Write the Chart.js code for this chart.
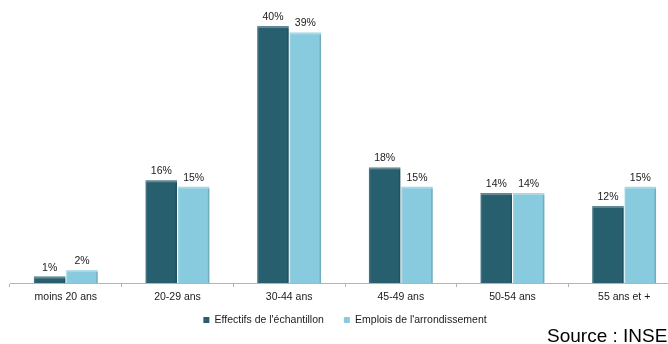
<!DOCTYPE html>
<html lang="fr">
<head>
<meta charset="utf-8">
<title>Répartition par âge</title>
<script src="https://cdn.jsdelivr.net/npm/chart.js@4/dist/chart.umd.min.js"></script>
<style>
  html, body { margin: 0; padding: 0; background: #fff; overflow: hidden; width: 668px; height: 344px; }
  #wrap { position: relative; width: 700px; height: 344px; }
</style>
</head>
<body>
<div id="wrap"><canvas id="c" width="700" height="344"></canvas></div>
<script>
// Tranches d'âge
const categories = ['moins 20 ans', '20-29 ans', '30-44 ans', '45-49 ans', '50-54 ans', '55 ans et +'];
// Parts en % par tranche
const effectifsEchantillon = [1, 16, 40, 18, 14, 12];
const emploisArrondissement = [2, 15, 39, 15, 14, 15];
const seriesNames = ["Effectifs de l'échantillon", "Emplois de l'arrondissement"];
const sourceText = 'Source : INSEE';

const FONT = "'Liberation Sans', Arial, sans-serif";
const DARK = '#285f6e';
const LIGHT = '#88cade';

// Valeurs en % au-dessus des barres
const valueLabels = {
  id: 'valueLabels',
  afterDatasetsDraw(chart) {
    const ctx = chart.ctx;
    ctx.save();
    ctx.font = '10.5px ' + FONT;
    ctx.fillStyle = '#1a1a1a';
    ctx.textAlign = 'center';
    ctx.textBaseline = 'alphabetic';
    chart.data.datasets.forEach((ds, i) => {
      chart.getDatasetMeta(i).data.forEach((bar, j) => {
        ctx.fillText(ds.data[j] + '%', bar.x, bar.y - 6);
      });
    });
    ctx.restore();
  }
};

// Léger relief sur les barres
const bevel = {
  id: 'bevel',
  afterDatasetsDraw(chart) {
    const ctx = chart.ctx;
    ctx.save();
    chart.data.datasets.forEach((ds, i) => {
      chart.getDatasetMeta(i).data.forEach((bar) => {
        const w = bar.width, x0 = bar.x - w / 2, y0 = bar.y, h = bar.base - bar.y;
        if (h < 3) return;
        ctx.fillStyle = 'rgba(255,255,255,0.28)';
        ctx.fillRect(x0, y0, w, 2);
        ctx.fillStyle = 'rgba(255,255,255,0.12)';
        ctx.fillRect(x0, y0 + 2, 1.5, h - 2);
        ctx.fillStyle = 'rgba(0,0,0,0.15)';
        ctx.fillRect(x0 + w - 1.5, y0 + 2, 1.5, h - 2);
      });
    });
    ctx.restore();
  }
};

// Remonte la légende juste sous les libellés de l'axe
const legendShift = {
  id: 'legendShift',
  afterLayout(chart) {
    const lg = chart.legend;
    if (!lg) return;
    const targetTop = 320 - 20 - 5.25;
    const d = lg.top - targetTop;
    lg.top -= d;
    lg.bottom -= d;
    if (lg.legendHitBoxes) lg.legendHitBoxes.forEach(b => { b.top -= d; });
  }
};

// Mention de la source en bas à droite
const sourceNote = {
  id: 'sourceNote',
  afterDraw(chart) {
    const ctx = chart.ctx;
    ctx.save();
    ctx.font = '19px ' + FONT;
    ctx.fillStyle = '#000';
    ctx.textAlign = 'left';
    ctx.textBaseline = 'alphabetic';
    ctx.fillText(sourceText, 547, 342);
    ctx.restore();
  }
};

new Chart(document.getElementById('c'), {
  type: 'bar',
  data: {
    labels: categories,
    datasets: [
      { label: seriesNames[0], data: effectifsEchantillon, backgroundColor: DARK },
      { label: seriesNames[1], data: emploisArrondissement, backgroundColor: LIGHT }
    ]
  },
  options: {
    responsive: false,
    animation: false,
    devicePixelRatio: 1,
    datasets: { bar: { categoryPercentage: 0.58, barPercentage: 0.97 } },
    layout: { padding: { top: 10, left: 10, right: 20, bottom: 0.5 } },
    scales: {
      x: {
        grid: { display: true, drawOnChartArea: false, drawTicks: true, tickLength: 4, color: '#b4b4b4', offset: true },
        border: { display: true, color: '#b4b4b4', width: 1 },
        ticks: { color: '#1a1a1a', font: { family: FONT, size: 10.5 }, padding: 4, maxRotation: 0, autoSkip: false },
        afterFit(scale) { scale.height = 20; }
      },
      y: { display: false, min: 0, max: 42.5 }
    },
    plugins: {
      legend: {
        position: 'bottom',
        labels: { boxWidth: 6, boxHeight: 6, padding: 20, color: '#1a1a1a', font: { family: FONT, size: 10.5 } }
      },
      tooltip: { enabled: false }
    }
  },
  plugins: [legendShift, bevel, valueLabels, sourceNote]
});
</script>
</body>
</html>
